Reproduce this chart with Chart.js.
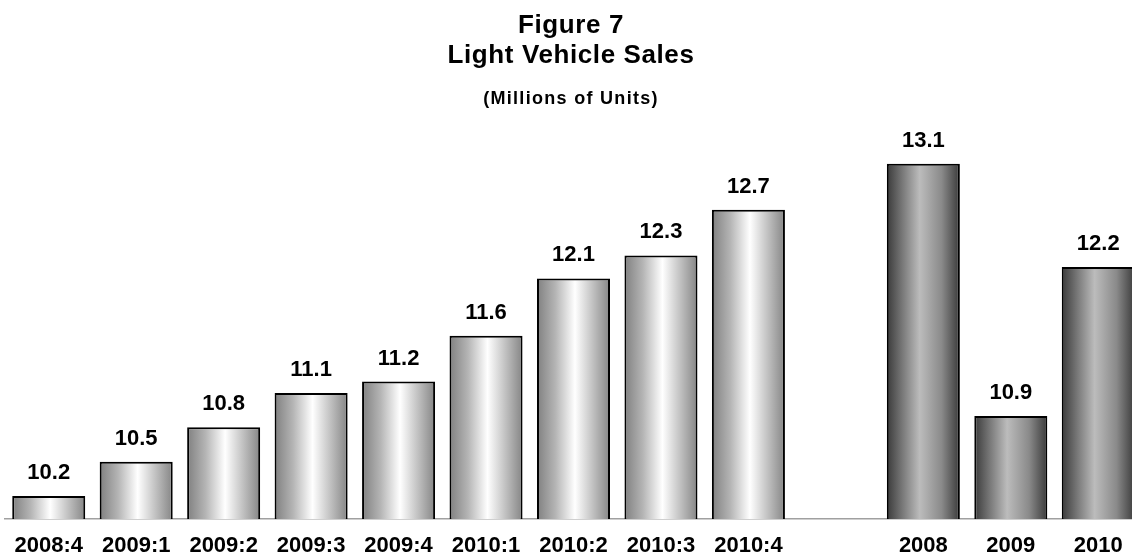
<!DOCTYPE html>
<html>
<head>
<meta charset="utf-8">
<script src="https://cdn.jsdelivr.net/npm/chart.js@4/dist/chart.umd.min.js"></script>
<style>
  html, body { margin: 0; padding: 0; background: #fff; overflow: hidden; }
  #wrap { width: 1142px; height: 557px; position: relative; }
</style>
</head>
<body>
<div id="wrap"><canvas id="chart"></canvas></div>
<script>
// quarterly and annual light vehicle sales, millions of units
const quarterLabels = ['2008:4', '2009:1', '2009:2', '2009:3', '2009:4', '2010:1', '2010:2', '2010:3', '2010:4'];
const quarterValues = [10.2, 10.5, 10.8, 11.1, 11.2, 11.6, 12.1, 12.3, 12.7];
const yearLabels = ['2008', '2009', '2010'];
const yearValues = [13.1, 10.9, 12.2];
const titleLines = ['Figure 7', 'Light Vehicle Sales', '(Millions of Units)'];

const labels = [...quarterLabels, '', ...yearLabels];
const values = [...quarterValues, null, ...yearValues];
const nQ = quarterLabels.length;

const FONT = '"Liberation Sans", Arial, sans-serif';
const BAR_PCT = 0.835;

function barFill(ctx) {
    const chart = ctx.chart;
    const area = chart.chartArea;
    if (!area) return '#999';
    const i = ctx.dataIndex;
    const cx = chart.scales.x.getPixelForValue(i);
    const w = area.width / labels.length * BAR_PCT;
    const g = chart.ctx.createLinearGradient(cx - w / 2, 0, cx + w / 2, 0);
    if (i < nQ) {
        g.addColorStop(0, '#808080');
        g.addColorStop(0.25, '#b4b4b4');
        g.addColorStop(0.52, '#ffffff');
        g.addColorStop(0.8, '#b8b8b8');
        g.addColorStop(1, '#858585');
    } else {
        g.addColorStop(0, '#3a3a3a');
        g.addColorStop(0.22, '#7a7a7a');
        g.addColorStop(0.45, '#bcbcbc');
        g.addColorStop(0.75, '#8a8a8a');
        g.addColorStop(1, '#3a3a3a');
    }
    return g;
}

const titlePlugin = {
    id: 'titles',
    afterDraw(chart) {
        const c = chart.ctx;
        const x = chart.width / 2;
        c.save();
        c.fillStyle = '#000';
        c.textAlign = 'center';
        c.textBaseline = 'alphabetic';
        c.letterSpacing = '0.6px';
        c.font = 'bold 26px ' + FONT;
        c.fillText(titleLines[0], x, 33);
        c.fillText(titleLines[1], x, 63);
        c.letterSpacing = '1.3px';
        c.font = 'bold 18px ' + FONT;
        c.fillText(titleLines[2], x, 104);
        c.restore();
    }
};

const valuePlugin = {
    id: 'values',
    afterDatasetsDraw(chart) {
        const c = chart.ctx;
        const meta = chart.getDatasetMeta(0);
        c.save();
        c.fillStyle = '#000';
        c.textAlign = 'center';
        c.textBaseline = 'alphabetic';
        c.font = 'bold 22px ' + FONT;
        meta.data.forEach((bar, i) => {
            const v = values[i];
            if (v == null) return;
            c.fillText(v.toFixed(1), bar.x, bar.y - 17);
        });
        c.restore();
    }
};

new Chart(document.getElementById('chart'), {
    type: 'bar',
    data: {
        labels: labels,
        datasets: [{
            data: values,
            backgroundColor: barFill,
            borderColor: '#000',
            borderWidth: 2,
            borderSkipped: false,
            categoryPercentage: 1,
            barPercentage: BAR_PCT
        }]
    },
    options: {
        responsive: true,
        maintainAspectRatio: false,
        animation: false,
        layout: { padding: { top: 118, left: 5, right: 0, bottom: 0 } },
        plugins: {
            legend: { display: false },
            title: { display: false },
            tooltip: { enabled: false }
        },
        scales: {
            x: {
                grid: { display: false, drawTicks: false },
                border: { display: true, color: '#a0a0a0', width: 1.5 },
                ticks: {
                    color: '#000',
                    font: { family: FONT, size: 22, weight: 'bold' },
                    padding: 14,
                    maxRotation: 0,
                    autoSkip: false
                },
                afterFit(scale) {
                    scale.height = 38;
                }
            },
            y: {
                display: false,
                min: 10,
                max: 13.5
            }
        }
    },
    plugins: [titlePlugin, valuePlugin]
});
</script>
</body>
</html>
